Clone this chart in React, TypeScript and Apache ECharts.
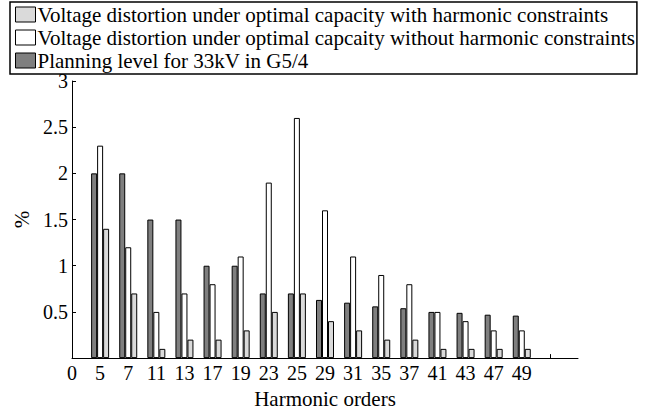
import React, { useEffect, useRef } from "react";
import * as echarts from "echarts";

const categories = ["0", "5", "7", "11", "13", "17", "19", "23", "25", "29", "31", "35", "37", "41", "43", "47", "49", "", ""];
const planning = [null, 2.0, 2.0, 1.5, 1.5, 1.0, 1.0, 0.7, 0.7, 0.63, 0.6, 0.56, 0.54, 0.5, 0.49, 0.47, 0.46, null, null];
const withoutConstraints = [null, 2.3, 1.2, 0.5, 0.7, 0.8, 1.1, 1.9, 2.6, 1.6, 1.1, 0.9, 0.8, 0.5, 0.4, 0.3, 0.3, null, null];
const withConstraints = [null, 1.4, 0.7, 0.1, 0.2, 0.2, 0.3, 0.5, 0.7, 0.4, 0.3, 0.2, 0.2, 0.1, 0.1, 0.1, 0.1, null, null];
const yTicks = [0, 0.5, 1, 1.5, 2, 2.5, 3];

const nameWith = "Voltage distortion under optimal capacity with harmonic constraints";
const nameWithout = "Voltage distortion under optimal capcaity without harmonic constraints";
const namePlanning = "Planning level for 33kV in G5/4";

const FONT = "Liberation Serif";

export default function App() {
  const ref = useRef<HTMLDivElement>(null);
  useEffect(() => {
    document.body.style.margin = "0";
    if (!ref.current) return;
    const chart = echarts.init(ref.current, undefined, { renderer: "svg" });
    const barBase = { type: "bar", barWidth: 6, barGap: "0%", itemStyle: { borderColor: "#000", borderWidth: 1 } };
    chart.setOption({
      animation: false,
      textStyle: { fontFamily: FONT },
      grid: { left: 72, right: 85, top: 81, bottom: 46, containLabel: false },
      legend: {
        orient: "vertical",
        left: 10,
        top: 2,
        padding: [2, 2, 3, 5],
        itemGap: 2,
        itemWidth: 20,
        itemHeight: 15,
        icon: "rect",
        data: [nameWith, nameWithout, namePlanning],
        backgroundColor: "#fff",
        borderColor: "#000",
        borderWidth: 1.5,
        borderRadius: 0,
        textStyle: { fontFamily: FONT, fontSize: 21, color: "#000", padding: [0, 0, 0, -3] },
        itemStyle: { borderColor: "#000", borderWidth: 1 },
        selectedMode: false,
      },
      xAxis: {
        type: "category",
        data: categories,
        boundaryGap: false,
        name: "Harmonic orders",
        nameLocation: "middle",
        nameGap: 20,
        nameTextStyle: { fontFamily: FONT, fontSize: 21, color: "#000" },
        axisLine: { lineStyle: { color: "#000", width: 1 } },
        axisTick: { show: true, inside: true, length: 4, lineStyle: { color: "#000" }, interval: (i: number) => i < 18 },
        axisLabel: { interval: 0, fontFamily: FONT, fontSize: 20, color: "#000", margin: 5 },
        splitLine: { show: false },
      },
      yAxis: {
        type: "value",
        min: yTicks[0],
        max: yTicks[yTicks.length - 1],
        interval: 0.5,
        name: "%",
        nameLocation: "middle",
        nameRotate: 90,
        nameGap: 31,
        nameTextStyle: { fontFamily: FONT, fontSize: 21, color: "#000" },
        axisLine: { show: true, lineStyle: { color: "#000", width: 1 } },
        axisTick: { show: true, inside: true, length: 4, lineStyle: { color: "#000" } },
        axisLabel: {
          fontFamily: FONT,
          fontSize: 20,
          color: "#000",
          margin: 4,
          formatter: (v: number) => (v === 0 ? "" : String(v)),
        },
        splitLine: { show: false },
      },
      series: [
        { ...barBase, name: namePlanning, data: planning, itemStyle: { ...barBase.itemStyle, color: "#7f7f7f" } },
        { ...barBase, name: nameWithout, data: withoutConstraints, itemStyle: { ...barBase.itemStyle, color: "#ffffff" } },
        { ...barBase, name: nameWith, data: withConstraints, itemStyle: { ...barBase.itemStyle, color: "#dadada" } },
      ],
    });
    return () => chart.dispose();
  }, []);
  return <div ref={ref} style={{ width: 663, height: 414 }} />;
}
